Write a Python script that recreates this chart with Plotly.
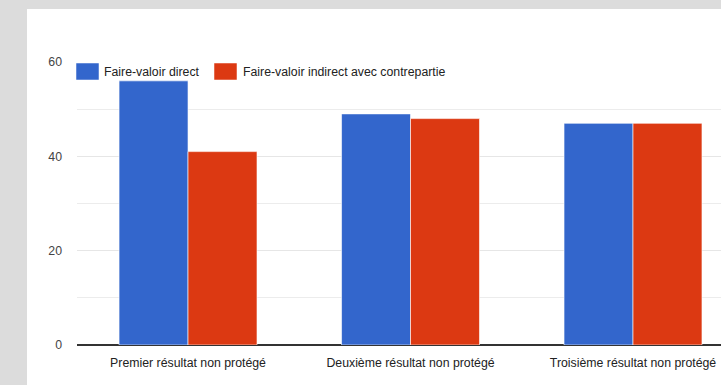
import plotly.graph_objects as go

categories = ["Premier résultat non protégé", "Deuxième résultat non protégé", "Troisième résultat non protégé"]
series_names = ["Faire-valoir direct", "Faire-valoir indirect avec contrepartie"]
direct = [56, 49, 47]
indirect = [41, 48, 47]
colors = ["#3366cc", "#dc3912"]
y_ticks = [0, 20, 40, 60]

W, H = 721, 385
ML, MR, MT, MB = 77, 0, 62, 40
PW, PH = W - ML - MR, H - MT - MB

def px(x):
    return (x - ML) / PW

def py(y):
    return (H - MB - y) / PH

FONT = "Liberation Sans, Arial, sans-serif"
GRAY = "#dcdcdc"

fig = go.Figure()
for name, vals, col in zip(series_names, [direct, indirect], colors):
    fig.add_trace(go.Bar(
        x=categories, y=vals, name=name,
        marker=dict(color=col, line=dict(color="rgba(255,255,255,0.6)", width=1)),
        showlegend=False,
    ))

shapes = [
    dict(type="rect", xref="paper", yref="paper", x0=px(-5), x1=px(27), y0=py(H + 5), y1=py(-5),
         fillcolor=GRAY, line=dict(width=0), layer="below"),
    dict(type="rect", xref="paper", yref="paper", x0=px(-5), x1=px(W + 10), y0=py(9), y1=py(-5),
         fillcolor=GRAY, line=dict(width=0), layer="below"),
]
annotations = []
leg = [(76, 103), (214, 242)]
for (sx, tx), name, col in zip(leg, series_names, colors):
    shapes.append(dict(type="rect", xref="paper", yref="paper", x0=px(sx), x1=px(sx + 23),
                       y0=py(80), y1=py(63), fillcolor=col, line=dict(color="rgba(255,255,255,0.5)", width=1)))
    annotations.append(dict(xref="paper", yref="paper", x=px(tx), y=py(71.5), text=name, showarrow=False,
                            xanchor="left", yanchor="middle", xshift=-1,
                            font=dict(family=FONT, size=12.3, color="#222")))

fig.update_layout(
    width=W, height=H,
    margin=dict(l=ML, r=MR, t=MT, b=MB, pad=0),
    paper_bgcolor="white",
    plot_bgcolor="white",
    barmode="group",
    bargap=0.38,
    bargroupgap=0.0,
    shapes=shapes,
    annotations=annotations,
    font=dict(family=FONT, size=12.3, color="#222"),
    xaxis=dict(range=[-0.499, 2.3955], showgrid=False, ticks="", automargin=False,
               ticklabelstandoff=9,
               tickfont=dict(family=FONT, size=12.3, color="#222"),
               showline=False, zeroline=False, fixedrange=True),
    yaxis=dict(range=[0, 60], tickvals=y_ticks, showgrid=True, gridcolor="#e6e6e6", gridwidth=1,
               minor=dict(dtick=10, showgrid=True, gridcolor="#ececec", gridwidth=1),
               zeroline=True, zerolinecolor="#333333", zerolinewidth=2, automargin=False,
               ticks="", ticklabelstandoff=14, tickfont=dict(family=FONT, size=12.3, color="#444"),
               showline=False),
)
post = "document.documentElement.style.overflow='hidden'; document.body.style.overflow='hidden'; document.body.style.margin='0';"
fig.write_html("out.html", post_script=post)
